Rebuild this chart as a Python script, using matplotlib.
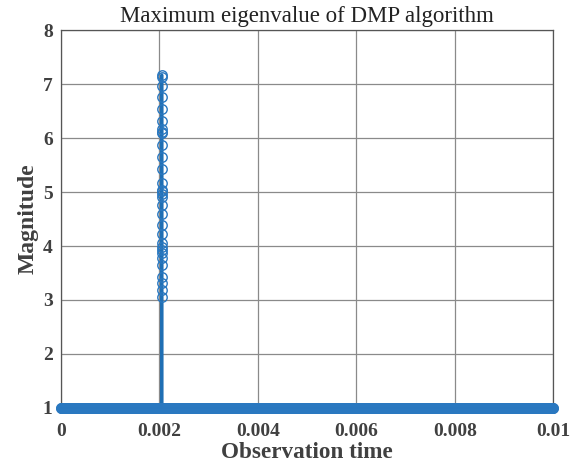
import numpy as np
from matplotlib import pyplot as plt

# observation grid and baseline eigenvalue
t_start = 0.0
t_end = 0.01
n_samples = 1500
baseline = 1.0

spike_time = 0.00205
spike_values = [3.06, 3.19, 3.31, 3.43, 3.65, 3.78, 3.87, 3.93, 3.99, 4.05,
                4.22, 4.39, 4.59, 4.76, 4.91, 4.96, 5.01, 5.04, 5.17, 5.43,
                5.65, 5.87, 6.09, 6.12, 6.16, 6.32, 6.53, 6.76, 6.96, 7.14, 7.17]

x_ticks = [0, 0.002, 0.004, 0.006, 0.008, 0.01]
x_labels = ['0', '0.002', '0.004', '0.006', '0.008', '0.01']
y_ticks = [1, 2, 3, 4, 5, 6, 7, 8]

times = np.linspace(t_start, t_end, n_samples)
values = np.full(n_samples, baseline)
k = np.searchsorted(times, spike_time)
t = np.concatenate([times[:k], [spike_time] * (len(spike_values) + 2), times[k:]])
v = np.concatenate([values[:k], [baseline], spike_values, [baseline], values[k:]])

plt.rcParams['font.family'] = ['Liberation Serif', 'DejaVu Serif']
txt = '#404040'

fig = plt.figure(figsize=(5.81, 4.70), dpi=100)
ax = fig.add_axes([0.105, 0.132, 0.847, 0.804])

ax.plot(t, v, color='#1f6fb4', linewidth=2.0, marker='o', markersize=6.8,
        markerfacecolor='none', markeredgecolor='#2a78c0', markeredgewidth=1.0,
        clip_on=False, zorder=3)

ax.set_xlim(0, 0.01)
ax.set_ylim(1, 8)
ax.set_xticks(x_ticks)
ax.set_xticklabels(x_labels)
ax.set_yticks(y_ticks)
ax.grid(True, color='#8a8a8a', linewidth=0.9)
ax.set_axisbelow(True)
ax.tick_params(direction='in', length=0, labelsize=14, colors=txt)
ax.tick_params(axis='x', pad=11)
ax.tick_params(axis='y', pad=6)
for lab in ax.get_xticklabels() + ax.get_yticklabels():
    lab.set_fontweight('bold')
for s in ax.spines.values():
    s.set_color('#555555')
    s.set_linewidth(0.9)

ax.set_xlabel('Observation time', fontsize=16.7, fontweight='bold', color=txt, labelpad=1)
ax.set_ylabel('Magnitude', fontsize=17, fontweight='bold', color=txt, labelpad=3)
ax.set_title('Maximum eigenvalue of DMP algorithm', fontsize=16.5, color='#222222', pad=6)

fig.savefig('out.png', dpi=100)
